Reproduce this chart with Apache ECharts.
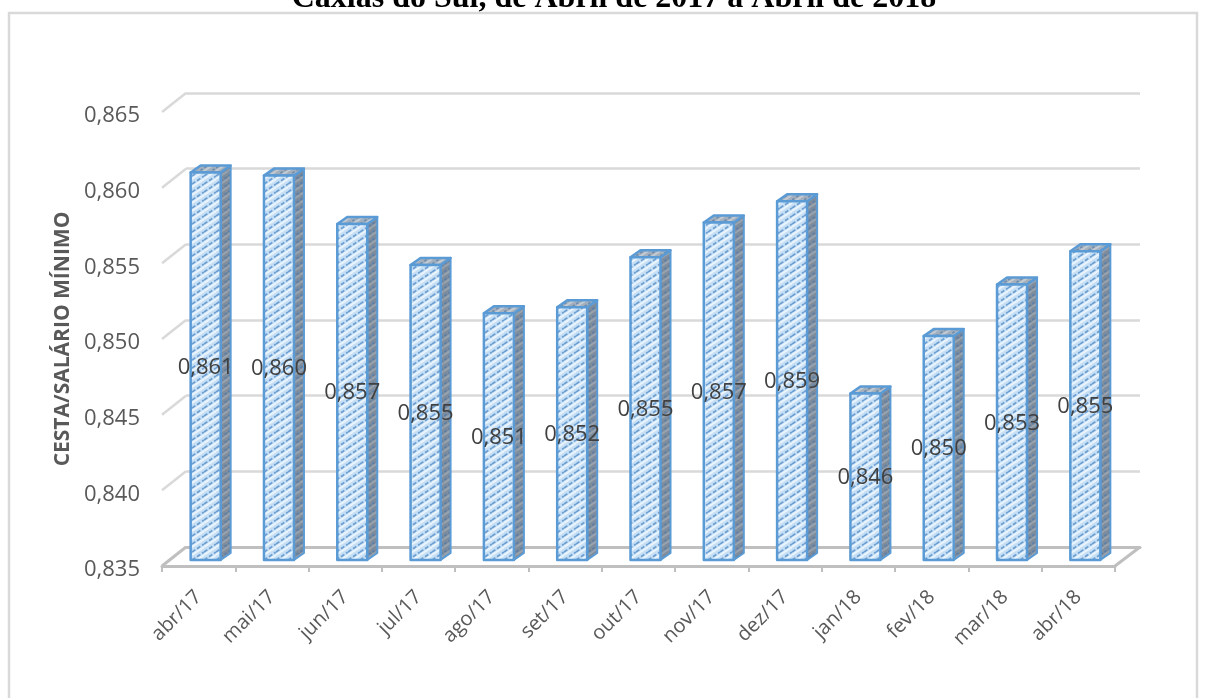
<!DOCTYPE html>
<html><head><meta charset="utf-8">
<style>html,body{margin:0;padding:0;background:#fff}#c{width:1208px;height:698px}</style>
<script src="https://cdn.jsdelivr.net/npm/echarts@6/dist/echarts.min.js"></script>
</head><body><div id="c"></div>
<script>
const categories = ['abr/17','mai/17','jun/17','jul/17','ago/17','set/17','out/17','nov/17','dez/17','jan/18','fev/18','mar/18','abr/18'];
const values = [0.8606,0.8604,0.8572,0.8545,0.8513,0.8517,0.8550,0.8573,0.8587,0.8460,0.8498,0.8532,0.8554];
const yTicks = [0.835,0.840,0.845,0.850,0.855,0.860,0.865];
const titleText = 'Caxias do Sul, de Abril de 2017 a Abril de 2018';
const yName = 'CESTA/SALÁRIO MÍNIMO';

function hatch(bg, light, fg, w, dash){
  const sx = 12, sy = 8, c = document.createElement('canvas');
  c.width = sx; c.height = sy;
  const g = c.getContext('2d');
  g.fillStyle = bg; g.fillRect(0,0,sx,sy);
  const draw = (col, lw, off, d) => {
    g.strokeStyle = col; g.lineWidth = lw; g.setLineDash(d || []);
    [-8,0,8].forEach(o => { g.beginPath(); g.moveTo(0, 8+o+off); g.lineTo(12, 0+o+off); g.stroke(); });
  };
  draw(light, 2, 3);
  draw(fg, w, 0, dash);
  return {image:c, repeat:'repeat'};
}
const frontFill = hatch('#C6DFF5','#EAF4FC','#6E9FD2',1.7,[4,2]);
const sideFill = hatch('#7E8C9C','#98A3AF','#5B7FA8',1.5,[3,2]);
const topFill = hatch('#A3AFBC','#C3CAD2','#6C8DB0',1.5,[3,2]);
const barBlue = '#5B9BD5';

const wallDX = 24, wallDY = -19, barDX = 7, barDY = -6, depthX = 10, depthY = -7, halfW = 15;

const chart = echarts.init(document.getElementById('c'));
chart.setOption({
  animation:false,
  backgroundColor:'#fff',
  title:{text:titleText,left:609,top:-22,textAlign:'center',
    textStyle:{fontFamily:'Liberation Serif',fontWeight:'bold',fontSize:32,color:'#000'}},
  graphic:[{type:'rect',shape:{x:9,y:13,width:1188,height:700},
    style:{fill:'transparent',stroke:'#D9D9D9',lineWidth:2.5},silent:true}],
  grid:[
    {left:162,width:953,top:112,height:454},
    {left:186,width:954,top:93,height:454}
  ],
  xAxis:[
    {gridIndex:0,type:'category',data:categories,
      axisLine:{lineStyle:{color:'#BFBFBF',width:3}},
      axisTick:{show:true,length:6,lineStyle:{color:'#BFBFBF',width:2}},
      axisLabel:{rotate:45,color:'#595959',fontFamily:'Open Sans',fontSize:20,margin:28,interval:0}},
    {gridIndex:1,type:'category',data:categories,
      axisLine:{lineStyle:{color:'#BFBFBF',width:3}},axisTick:{show:false},axisLabel:{show:false}}
  ],
  yAxis:[
    {gridIndex:0,type:'value',min:0.835,max:0.865,interval:0.005,
      name:yName,nameLocation:'middle',nameRotate:90,nameGap:86,
      nameTextStyle:{fontFamily:'Open Sans',fontSize:21,fontWeight:'bold',color:'#595959'},
      axisLine:{show:false},axisTick:{show:false},splitLine:{show:false},
      axisLabel:{color:'#595959',fontFamily:'Open Sans',fontSize:22,margin:22,verticalAlign:'top',lineHeight:8,
        formatter:v=>v.toFixed(3).replace('.',',')}},
    {gridIndex:1,type:'value',min:0.835,max:0.865,interval:0.005,
      axisLine:{show:false},axisTick:{show:false},axisLabel:{show:false},
      splitLine:{lineStyle:{color:'#D9D9D9',width:2.5}}}
  ],
  series:[
    {type:'custom',xAxisIndex:0,yAxisIndex:0,silent:true,z:1,clip:false,
      data:yTicks.map(v=>[0,v]),
      renderItem(p,api){
        const c = api.coord([api.value(0),api.value(1)]);
        const x = p.coordSys.x;
        const floor = api.value(1)===yTicks[0];
        return {type:'line',shape:{x1:x,y1:c[1],x2:x+wallDX,y2:c[1]+wallDY},style:{stroke:floor?'#BFBFBF':'#D9D9D9',lineWidth:floor?3:2.5}};
      }},
    {type:'custom',xAxisIndex:0,yAxisIndex:0,silent:true,z:1,clip:false,
      data:[[0,yTicks[0]]],
      renderItem(p,api){
        const c = api.coord([0,api.value(1)]);
        const x = p.coordSys.x+p.coordSys.width;
        return {type:'line',shape:{x1:x,y1:c[1],x2:x+wallDX+1,y2:c[1]+wallDY},style:{stroke:'#BFBFBF',lineWidth:3}};
      }},
    {type:'custom',xAxisIndex:0,yAxisIndex:0,silent:true,z:5,clip:false,
      encode:{x:0,y:1},
      data:values.map((v,i)=>[i,v]),
      renderItem(p,api){
        const top = api.coord([api.value(0),api.value(1)]);
        const base = api.coord([api.value(0),yTicks[0]]);
        const l = top[0]+barDX-halfW, r = top[0]+barDX+halfW;
        const t = top[1]+barDY, b = base[1]+barDY;
        const st = {stroke:barBlue,lineWidth:2.5,lineJoin:'round'};
        return {type:'group',children:[
          {type:'polygon',shape:{points:[[r,t],[r+depthX,t+depthY],[r+depthX,b+depthY],[r,b]]},
            style:Object.assign({fill:sideFill},st,{lineWidth:2})},
          {type:'polygon',shape:{points:[[l,t],[l+depthX,t+depthY],[r+depthX,t+depthY],[r,t]]},
            style:Object.assign({fill:topFill},st)},
          {type:'rect',shape:{x:l,y:t,width:r-l,height:b-t},style:Object.assign({fill:frontFill},st)},
          {type:'text',x:(l+r)/2,y:(t+b)/2+1,
            style:{text:api.value(1).toFixed(3).replace('.',','),fill:'#404040',fontFamily:'Open Sans',fontSize:22,
              align:'center',verticalAlign:'middle'}}
        ]};
      }}
  ]
});
</script></body></html>
